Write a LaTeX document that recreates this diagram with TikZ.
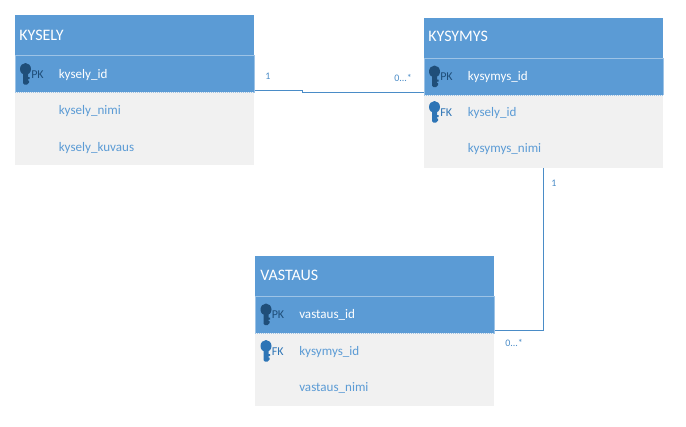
\documentclass[tikz,border=0pt]{standalone}
\usepackage{fontspec}
\setmainfont{Carlito}
\usetikzlibrary{arrows.meta}
\usetikzlibrary{positioning}

\definecolor{headblue}{HTML}{5B9BD5}
\definecolor{rowgray}{HTML}{F1F1F1}
\definecolor{rimblue}{HTML}{9DC3E6}
\definecolor{darkkey}{HTML}{1F4E79}
\definecolor{lightkey}{HTML}{2E75B6}
\definecolor{linkblue}{HTML}{4A8CC7}

\tikzset{
    tablebody/.style={anchor=north west, inner sep=0pt, fill=rowgray, minimum width=179.25pt},
    tablehead/.style={anchor=north west, inner sep=0pt, fill=headblue, minimum width=179.25pt, minimum height=30pt},
    pkrow/.style={anchor=north west, inner sep=0pt, fill=headblue, minimum width=179.25pt, minimum height=27.5pt},
    title/.style={anchor=base west, inner sep=0pt, text=white, font=\fontsize{12}{14}\selectfont},
    idfield/.style={anchor=base west, inner sep=0pt, text=white, font=\fontsize{9.8}{11}\selectfont},
    field/.style={anchor=base west, inner sep=0pt, text=headblue, font=\fontsize{9.8}{11}\selectfont},
    pktag/.style={anchor=base west, inner sep=0pt, text=darkkey, font=\fontsize{9}{11}\selectfont},
    fktag/.style={anchor=base west, inner sep=0pt, text=lightkey, font=\fontsize{9}{11}\selectfont},
    multi/.style={anchor=base west, inner sep=0pt, text=linkblue, font=\fontsize{7.5}{9}\selectfont},
    link/.style={draw=linkblue, line width=0.75pt},
    keyicon/.pic={
        \fill[pic actions] (0,0) ellipse [x radius=5.5, y radius=6];
        \fill[pic actions] (-2.5,4) -- (2.5,4) -- (2.5,8) -- (4,8) -- (4,10) -- (2.5,10) -- (2.5,11.5) -- (3.5,11.5)
            -- (3.5,13.5) -- (1.5,15.5) -- (-1,15.5) -- (-2.5,14) -- cycle;
    }
}

\begin{document}
\begin{tikzpicture}[x=0.75pt,y=-0.75pt,>=Stealth]

    \useasboundingbox (0,0) rectangle (686,426);

    % KYSELY
    \node[tablebody, minimum height=82pt] (kyselyBody) at (15,55) {};
    \node[tablehead] (kyselyHead) at (15,15) {};
    \node[pkrow] (kyselyRow) at (15,55.5) {};
    \draw[rimblue, line width=0.5pt] (kyselyRow.south west) -- (kyselyRow.north west) -- (kyselyRow.north east) -- (kyselyRow.south east);
    \draw[rimblue, densely dotted, line width=0.5pt] (kyselyRow.south west) -- (kyselyRow.south east);
    \node[title] (kyselyTitle) at (19,40) {KYSELY};
    \pic[fill=darkkey] at (25.5,69) {keyicon};
    \node[pktag] (kyselyPk) at (31,78) {PK};
    \node[idfield] (kyselyId) at (58.5,78) {kysely\_id};
    \node[field] (kyselyNimi) at (58.5,114.5) {kysely\_nimi};
    \node[field] (kyselyKuvaus) at (58.5,151) {kysely\_kuvaus};

    % KYSYMYS
    \node[tablebody, minimum height=82pt] (kysymysBody) at (424,58) {};
    \node[tablehead] (kysymysHead) at (424,18) {};
    \node[pkrow] (kysymysRow) at (424,58) {};
    \draw[rimblue, line width=0.5pt] (kysymysRow.south west) -- (kysymysRow.north west) -- (kysymysRow.north east) -- (kysymysRow.south east);
    \draw[rimblue, densely dotted, line width=0.5pt] (kysymysRow.south west) -- (kysymysRow.south east);
    \node[title] (kysymysTitle) at (428,41.5) {KYSYMYS};
    \pic[fill=darkkey] at (434.5,71.5) {keyicon};
    \node[pktag] (kysymysPk) at (440,80) {PK};
    \node[idfield] (kysymysId) at (467.5,80) {kysymys\_id};
    \pic[fill=lightkey] at (434.5,107) {keyicon};
    \node[fktag] (kysymysFk) at (440,116) {FK};
    \node[field] (kysymysKysely) at (467.5,116) {kysely\_id};
    \node[field] (kysymysNimi) at (467.5,152.5) {kysymys\_nimi};

    % VASTAUS
    \node[tablebody, minimum height=82.5pt] (vastausBody) at (255,296) {};
    \node[tablehead] (vastausHead) at (255,256) {};
    \node[pkrow] (vastausRow) at (255,296.5) {};
    \draw[rimblue, line width=0.5pt] (vastausRow.south west) -- (vastausRow.north west) -- (vastausRow.north east) -- (vastausRow.south east);
    \draw[rimblue, densely dotted, line width=0.5pt] (vastausRow.south west) -- (vastausRow.south east);
    \node[title] (vastausTitle) at (260,280) {VASTAUS};
    \pic[fill=darkkey] at (266,309.5) {keyicon};
    \node[pktag] (vastausPk) at (271.5,318) {PK};
    \node[idfield] (vastausId) at (299,318) {vastaus\_id};
    \pic[fill=lightkey] at (266,346) {keyicon};
    \node[fktag] (vastausFk) at (271.5,355) {FK};
    \node[field] (vastausKysymys) at (299,355) {kysymys\_id};
    \node[field] (vastausNimi) at (299,391.5) {vastaus\_nimi};

    % links
    \coordinate (jogTop) at (302,90.5);
    \coordinate (jogLow) at (302,92.3);
    \coordinate (bendLow) at (543.3,330.3);
    \draw[link] (kyselyRow.south east |- jogTop) -- (jogTop) -- (jogLow) -- (kysymysRow.south west |- jogLow);
    \draw[link] (kysymysBody.south west -| bendLow) -- (bendLow) -- (vastausRow.south east |- bendLow);

    \node[multi] (oneKysely) at (265,79) {1};
    \node[multi] (manyKysymys) at (394,81) {0...*};
    \node[multi] (oneKysymys) at (551,186) {1};
    \node[multi] (manyVastaus) at (505,346) {0...*};

\end{tikzpicture}
\end{document}
